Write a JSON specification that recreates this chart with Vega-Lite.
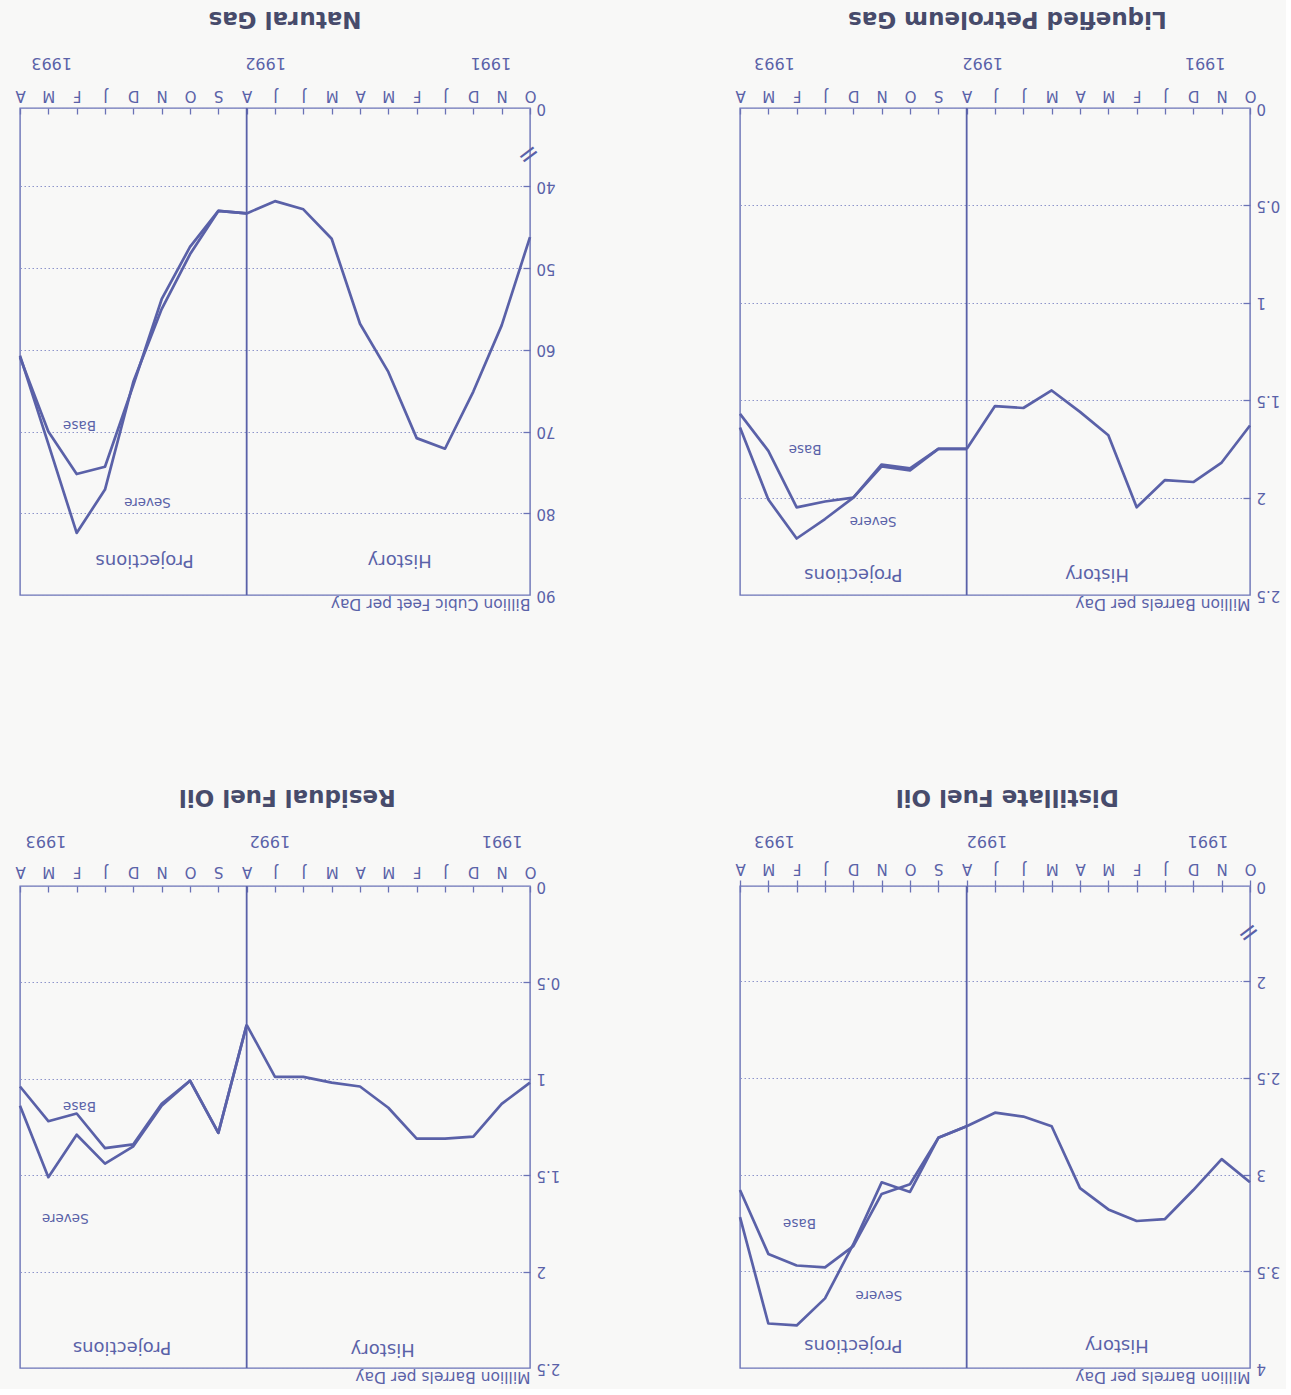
{
  "$schema": "https://vega.github.io/schema/vega-lite/v6.json",
  "background": "#f8f8f7",
  "padding": {"left": 14, "top": 6, "right": 5, "bottom": 5},
  "datasets": {
    "series": [
      {"fuel": "Natural Gas", "series": "History", "idx": 0, "value": 46.2},
      {"fuel": "Natural Gas", "series": "History", "idx": 1, "value": 57.0},
      {"fuel": "Natural Gas", "series": "History", "idx": 2, "value": 65.1},
      {"fuel": "Natural Gas", "series": "History", "idx": 3, "value": 72.1},
      {"fuel": "Natural Gas", "series": "History", "idx": 4, "value": 70.8},
      {"fuel": "Natural Gas", "series": "History", "idx": 5, "value": 62.7},
      {"fuel": "Natural Gas", "series": "History", "idx": 6, "value": 56.8},
      {"fuel": "Natural Gas", "series": "History", "idx": 7, "value": 46.4},
      {"fuel": "Natural Gas", "series": "History", "idx": 8, "value": 42.8},
      {"fuel": "Natural Gas", "series": "History", "idx": 9, "value": 41.8},
      {"fuel": "Natural Gas", "series": "History", "idx": 10, "value": 43.3},
      {"fuel": "Natural Gas", "series": "Severe", "idx": 10, "value": 43.3},
      {"fuel": "Natural Gas", "series": "Severe", "idx": 11, "value": 43.0},
      {"fuel": "Natural Gas", "series": "Severe", "idx": 12, "value": 48.3},
      {"fuel": "Natural Gas", "series": "Severe", "idx": 13, "value": 55.0},
      {"fuel": "Natural Gas", "series": "Severe", "idx": 14, "value": 63.9},
      {"fuel": "Natural Gas", "series": "Severe", "idx": 15, "value": 77.1},
      {"fuel": "Natural Gas", "series": "Severe", "idx": 16, "value": 82.4},
      {"fuel": "Natural Gas", "series": "Severe", "idx": 17, "value": 71.5},
      {"fuel": "Natural Gas", "series": "Severe", "idx": 18, "value": 60.7},
      {"fuel": "Natural Gas", "series": "Base", "idx": 10, "value": 43.3},
      {"fuel": "Natural Gas", "series": "Base", "idx": 11, "value": 43.0},
      {"fuel": "Natural Gas", "series": "Base", "idx": 12, "value": 47.4},
      {"fuel": "Natural Gas", "series": "Base", "idx": 13, "value": 53.8},
      {"fuel": "Natural Gas", "series": "Base", "idx": 14, "value": 64.3},
      {"fuel": "Natural Gas", "series": "Base", "idx": 15, "value": 74.3},
      {"fuel": "Natural Gas", "series": "Base", "idx": 16, "value": 75.2},
      {"fuel": "Natural Gas", "series": "Base", "idx": 17, "value": 70.0},
      {"fuel": "Natural Gas", "series": "Base", "idx": 18, "value": 60.9},

      {"fuel": "Liquefied Petroleum Gas", "series": "History", "idx": 0, "value": 1.63},
      {"fuel": "Liquefied Petroleum Gas", "series": "History", "idx": 1, "value": 1.82},
      {"fuel": "Liquefied Petroleum Gas", "series": "History", "idx": 2, "value": 1.92},
      {"fuel": "Liquefied Petroleum Gas", "series": "History", "idx": 3, "value": 1.91},
      {"fuel": "Liquefied Petroleum Gas", "series": "History", "idx": 4, "value": 2.05},
      {"fuel": "Liquefied Petroleum Gas", "series": "History", "idx": 5, "value": 1.68},
      {"fuel": "Liquefied Petroleum Gas", "series": "History", "idx": 6, "value": 1.56},
      {"fuel": "Liquefied Petroleum Gas", "series": "History", "idx": 7, "value": 1.45},
      {"fuel": "Liquefied Petroleum Gas", "series": "History", "idx": 8, "value": 1.54},
      {"fuel": "Liquefied Petroleum Gas", "series": "History", "idx": 9, "value": 1.53},
      {"fuel": "Liquefied Petroleum Gas", "series": "History", "idx": 10, "value": 1.75},
      {"fuel": "Liquefied Petroleum Gas", "series": "Severe", "idx": 10, "value": 1.75},
      {"fuel": "Liquefied Petroleum Gas", "series": "Severe", "idx": 11, "value": 1.75},
      {"fuel": "Liquefied Petroleum Gas", "series": "Severe", "idx": 12, "value": 1.86},
      {"fuel": "Liquefied Petroleum Gas", "series": "Severe", "idx": 13, "value": 1.84},
      {"fuel": "Liquefied Petroleum Gas", "series": "Severe", "idx": 14, "value": 2.0},
      {"fuel": "Liquefied Petroleum Gas", "series": "Severe", "idx": 15, "value": 2.11},
      {"fuel": "Liquefied Petroleum Gas", "series": "Severe", "idx": 16, "value": 2.21},
      {"fuel": "Liquefied Petroleum Gas", "series": "Severe", "idx": 17, "value": 2.01},
      {"fuel": "Liquefied Petroleum Gas", "series": "Severe", "idx": 18, "value": 1.64},
      {"fuel": "Liquefied Petroleum Gas", "series": "Base", "idx": 10, "value": 1.75},
      {"fuel": "Liquefied Petroleum Gas", "series": "Base", "idx": 11, "value": 1.75},
      {"fuel": "Liquefied Petroleum Gas", "series": "Base", "idx": 12, "value": 1.85},
      {"fuel": "Liquefied Petroleum Gas", "series": "Base", "idx": 13, "value": 1.83},
      {"fuel": "Liquefied Petroleum Gas", "series": "Base", "idx": 14, "value": 2.0},
      {"fuel": "Liquefied Petroleum Gas", "series": "Base", "idx": 15, "value": 2.02},
      {"fuel": "Liquefied Petroleum Gas", "series": "Base", "idx": 16, "value": 2.05},
      {"fuel": "Liquefied Petroleum Gas", "series": "Base", "idx": 17, "value": 1.76},
      {"fuel": "Liquefied Petroleum Gas", "series": "Base", "idx": 18, "value": 1.57},

      {"fuel": "Residual Fuel Oil", "series": "History", "idx": 0, "value": 1.02},
      {"fuel": "Residual Fuel Oil", "series": "History", "idx": 1, "value": 1.13},
      {"fuel": "Residual Fuel Oil", "series": "History", "idx": 2, "value": 1.30},
      {"fuel": "Residual Fuel Oil", "series": "History", "idx": 3, "value": 1.31},
      {"fuel": "Residual Fuel Oil", "series": "History", "idx": 4, "value": 1.31},
      {"fuel": "Residual Fuel Oil", "series": "History", "idx": 5, "value": 1.15},
      {"fuel": "Residual Fuel Oil", "series": "History", "idx": 6, "value": 1.04},
      {"fuel": "Residual Fuel Oil", "series": "History", "idx": 7, "value": 1.02},
      {"fuel": "Residual Fuel Oil", "series": "History", "idx": 8, "value": 0.99},
      {"fuel": "Residual Fuel Oil", "series": "History", "idx": 9, "value": 0.99},
      {"fuel": "Residual Fuel Oil", "series": "History", "idx": 10, "value": 0.72},
      {"fuel": "Residual Fuel Oil", "series": "Severe", "idx": 10, "value": 0.72},
      {"fuel": "Residual Fuel Oil", "series": "Severe", "idx": 11, "value": 1.28},
      {"fuel": "Residual Fuel Oil", "series": "Severe", "idx": 12, "value": 1.01},
      {"fuel": "Residual Fuel Oil", "series": "Severe", "idx": 13, "value": 1.14},
      {"fuel": "Residual Fuel Oil", "series": "Severe", "idx": 14, "value": 1.35},
      {"fuel": "Residual Fuel Oil", "series": "Severe", "idx": 15, "value": 1.44},
      {"fuel": "Residual Fuel Oil", "series": "Severe", "idx": 16, "value": 1.29},
      {"fuel": "Residual Fuel Oil", "series": "Severe", "idx": 17, "value": 1.51},
      {"fuel": "Residual Fuel Oil", "series": "Severe", "idx": 18, "value": 1.14},
      {"fuel": "Residual Fuel Oil", "series": "Base", "idx": 10, "value": 0.72},
      {"fuel": "Residual Fuel Oil", "series": "Base", "idx": 11, "value": 1.28},
      {"fuel": "Residual Fuel Oil", "series": "Base", "idx": 12, "value": 1.01},
      {"fuel": "Residual Fuel Oil", "series": "Base", "idx": 13, "value": 1.13},
      {"fuel": "Residual Fuel Oil", "series": "Base", "idx": 14, "value": 1.34},
      {"fuel": "Residual Fuel Oil", "series": "Base", "idx": 15, "value": 1.36},
      {"fuel": "Residual Fuel Oil", "series": "Base", "idx": 16, "value": 1.18},
      {"fuel": "Residual Fuel Oil", "series": "Base", "idx": 17, "value": 1.22},
      {"fuel": "Residual Fuel Oil", "series": "Base", "idx": 18, "value": 1.04},

      {"fuel": "Distillate Fuel Oil", "series": "History", "idx": 0, "value": 3.04},
      {"fuel": "Distillate Fuel Oil", "series": "History", "idx": 1, "value": 2.92},
      {"fuel": "Distillate Fuel Oil", "series": "History", "idx": 2, "value": 3.08},
      {"fuel": "Distillate Fuel Oil", "series": "History", "idx": 3, "value": 3.23},
      {"fuel": "Distillate Fuel Oil", "series": "History", "idx": 4, "value": 3.24},
      {"fuel": "Distillate Fuel Oil", "series": "History", "idx": 5, "value": 3.18},
      {"fuel": "Distillate Fuel Oil", "series": "History", "idx": 6, "value": 3.07},
      {"fuel": "Distillate Fuel Oil", "series": "History", "idx": 7, "value": 2.75},
      {"fuel": "Distillate Fuel Oil", "series": "History", "idx": 8, "value": 2.70},
      {"fuel": "Distillate Fuel Oil", "series": "History", "idx": 9, "value": 2.68},
      {"fuel": "Distillate Fuel Oil", "series": "History", "idx": 10, "value": 2.75},
      {"fuel": "Distillate Fuel Oil", "series": "Severe", "idx": 10, "value": 2.75},
      {"fuel": "Distillate Fuel Oil", "series": "Severe", "idx": 11, "value": 2.81},
      {"fuel": "Distillate Fuel Oil", "series": "Severe", "idx": 12, "value": 3.09},
      {"fuel": "Distillate Fuel Oil", "series": "Severe", "idx": 13, "value": 3.04},
      {"fuel": "Distillate Fuel Oil", "series": "Severe", "idx": 14, "value": 3.36},
      {"fuel": "Distillate Fuel Oil", "series": "Severe", "idx": 15, "value": 3.64},
      {"fuel": "Distillate Fuel Oil", "series": "Severe", "idx": 16, "value": 3.78},
      {"fuel": "Distillate Fuel Oil", "series": "Severe", "idx": 17, "value": 3.77},
      {"fuel": "Distillate Fuel Oil", "series": "Severe", "idx": 18, "value": 3.22},
      {"fuel": "Distillate Fuel Oil", "series": "Base", "idx": 10, "value": 2.75},
      {"fuel": "Distillate Fuel Oil", "series": "Base", "idx": 11, "value": 2.81},
      {"fuel": "Distillate Fuel Oil", "series": "Base", "idx": 12, "value": 3.05},
      {"fuel": "Distillate Fuel Oil", "series": "Base", "idx": 13, "value": 3.10},
      {"fuel": "Distillate Fuel Oil", "series": "Base", "idx": 14, "value": 3.37},
      {"fuel": "Distillate Fuel Oil", "series": "Base", "idx": 15, "value": 3.48},
      {"fuel": "Distillate Fuel Oil", "series": "Base", "idx": 16, "value": 3.47},
      {"fuel": "Distillate Fuel Oil", "series": "Base", "idx": 17, "value": 3.41},
      {"fuel": "Distillate Fuel Oil", "series": "Base", "idx": 18, "value": 3.08}
    ],
    "notes": [
      {"fuel": "Natural Gas", "role": "period", "label": "History", "idx": 4.6, "value": 85.7},
      {"fuel": "Natural Gas", "role": "period", "label": "Projections", "idx": 13.6, "value": 85.7},
      {"fuel": "Natural Gas", "role": "series", "label": "Base", "idx": 15.9, "value": 69.2},
      {"fuel": "Natural Gas", "role": "series", "label": "Severe", "idx": 13.5, "value": 78.6},
      {"fuel": "Liquefied Petroleum Gas", "role": "period", "label": "History", "idx": 5.4, "value": 2.39},
      {"fuel": "Liquefied Petroleum Gas", "role": "period", "label": "Projections", "idx": 14.0, "value": 2.39},
      {"fuel": "Liquefied Petroleum Gas", "role": "series", "label": "Base", "idx": 15.7, "value": 1.75},
      {"fuel": "Liquefied Petroleum Gas", "role": "series", "label": "Severe", "idx": 13.3, "value": 2.12},
      {"fuel": "Residual Fuel Oil", "role": "period", "label": "History", "idx": 5.2, "value": 2.4},
      {"fuel": "Residual Fuel Oil", "role": "period", "label": "Projections", "idx": 14.4, "value": 2.39},
      {"fuel": "Residual Fuel Oil", "role": "series", "label": "Base", "idx": 15.9, "value": 1.14},
      {"fuel": "Residual Fuel Oil", "role": "series", "label": "Severe", "idx": 16.4, "value": 1.72},
      {"fuel": "Distillate Fuel Oil", "role": "period", "label": "History", "idx": 4.7, "value": 3.88},
      {"fuel": "Distillate Fuel Oil", "role": "period", "label": "Projections", "idx": 14.0, "value": 3.88},
      {"fuel": "Distillate Fuel Oil", "role": "series", "label": "Base", "idx": 15.9, "value": 3.25},
      {"fuel": "Distillate Fuel Oil", "role": "series", "label": "Severe", "idx": 13.1, "value": 3.62}
    ],
    "dividers": [
      {"fuel": "Natural Gas", "idx": 10},
      {"fuel": "Liquefied Petroleum Gas", "idx": 10},
      {"fuel": "Residual Fuel Oil", "idx": 10},
      {"fuel": "Distillate Fuel Oil", "idx": 10}
    ],
    "breaks": [
      {"fuel": "Natural Gas", "idx": 0.05, "value": 36.1},
      {"fuel": "Distillate Fuel Oil", "idx": 0.05, "value": 1.75}
    ]
  },
  "concat": [
    {
      "title": {"text": "Natural Gas"},
      "width": 510, "height": 487,
      "layer": [
        {
          "data": {"name": "dividers"},
          "transform": [{"filter": "datum.fuel == 'Natural Gas'"}],
          "mark": {"type": "rule", "color": "#5a61a8", "strokeWidth": 1.8},
          "encoding": {
            "x": {"field": "idx", "type": "quantitative", "scale": {"domain": [0, 18], "reverse": true, "nice": false, "zero": false},
              "axis": {"orient": "top", "title": null, "values": [1.4, 9.35, 16.9], "labelExpr": "datum.value < 5 ? '1991' : datum.value < 13 ? '1992' : '1993'", "ticks": false, "domain": false, "grid": false, "labelPadding": 46, "labelFontSize": 16, "labelAlign": "center", "labelBaseline": "middle"}}
          }
        },
        {
          "data": {"name": "series"},
          "transform": [{"filter": "datum.fuel == 'Natural Gas'"}],
          "mark": {"type": "line", "color": "#5a61a8", "strokeJoin": "round"},
          "encoding": {
            "x": {"field": "idx", "type": "quantitative", "scale": {"domain": [0, 18], "reverse": true, "nice": false, "zero": false},
              "axis": {"orient": "top", "title": null, "values": [0,1,2,3,4,5,6,7,8,9,10,11,12,13,14,15,16,17,18], "labelExpr": "['O','N','D','J','F','M','A','M','J','J','A','S','O','N','D','J','F','M','A'][datum.value]", "ticks": false, "domain": false, "grid": false, "labelPadding": 13, "labelAlign": "center", "labelBaseline": "middle"}},
            "y": {"field": "value", "type": "quantitative", "scale": {"domain": [30.4, 90], "reverse": true, "nice": false, "zero": false},
              "axis": {"orient": "right", "values": [30.4, 40, 50, 60, 70, 80, 90], "format": "d", "labelExpr": "datum.value < 35 ? '0' : datum.label", "labelAlign": "right", "labelBaseline": "middle", "labelPadding": 6, "ticks": false, "domain": false, "grid": true, "title": "Billion Cubic Feet per Day", "titleAngle": 180, "titleAlign": "left", "titleBaseline": "alphabetic", "titleX": 0, "titleY": 490}},
            "strokeWidth": {"field": "series", "type": "nominal", "scale": {"domain": ["History", "Severe", "Base"], "range": [2.7, 2.7, 1.3]}, "legend": null}
          }
        },
        {
          "data": {"name": "notes"},
          "transform": [{"filter": "datum.fuel == 'Natural Gas' && datum.role == 'period'"}],
          "mark": {"type": "text", "fontSize": 18},
          "encoding": {
            "x": {"field": "idx", "type": "quantitative", "scale": {"domain": [0, 18], "reverse": true, "nice": false, "zero": false},
              "axis": {"orient": "top", "title": null, "values": [0,1,2,3,4,5,6,7,8,9,10,11,12,13,14,15,16,17,18], "labels": false, "ticks": true, "tickSize": -6, "domain": false, "grid": false}},
            "y": {"field": "value", "type": "quantitative", "scale": {"domain": [30.4, 90], "reverse": true, "nice": false, "zero": false},
              "axis": {"orient": "right", "title": null, "values": [40, 50, 60, 70, 80], "labels": false, "ticks": true, "tickSize": -7, "domain": false, "grid": false}},
            "text": {"field": "label"}
          }
        },
        {
          "data": {"name": "notes"},
          "transform": [{"filter": "datum.fuel == 'Natural Gas' && datum.role == 'series'"}],
          "mark": {"type": "text", "fontSize": 13.5},
          "encoding": {
            "x": {"field": "idx", "type": "quantitative", "scale": {"domain": [0, 18], "reverse": true, "nice": false, "zero": false}, "axis": null},
            "y": {"field": "value", "type": "quantitative", "scale": {"domain": [30.4, 90], "reverse": true, "nice": false, "zero": false}, "axis": null},
            "text": {"field": "label"}
          }
        },
        {
          "data": {"name": "breaks"},
          "transform": [{"filter": "datum.fuel == 'Natural Gas'"}],
          "mark": {"type": "text", "text": "=", "fontSize": 26, "angle": -37, "color": "#5a61a8"},
          "encoding": {
            "x": {"field": "idx", "type": "quantitative", "scale": {"domain": [0, 18], "reverse": true, "nice": false, "zero": false}, "axis": null},
            "y": {"field": "value", "type": "quantitative", "scale": {"domain": [30.4, 90], "reverse": true, "nice": false, "zero": false}, "axis": null}
          }
        }
      ],
      "resolve": {"axis": {"x": "independent", "y": "independent"}}
    },
    {
      "title": {"text": "Liquefied Petroleum Gas"},
      "width": 510, "height": 487,
      "layer": [
        {
          "data": {"name": "dividers"},
          "transform": [{"filter": "datum.fuel == 'Liquefied Petroleum Gas'"}],
          "mark": {"type": "rule", "color": "#5a61a8", "strokeWidth": 1.8},
          "encoding": {
            "x": {"field": "idx", "type": "quantitative", "scale": {"domain": [0, 18], "reverse": true, "nice": false, "zero": false},
              "axis": {"orient": "top", "title": null, "values": [1.6, 9.45, 16.8], "labelExpr": "datum.value < 5 ? '1991' : datum.value < 13 ? '1992' : '1993'", "ticks": false, "domain": false, "grid": false, "labelPadding": 46, "labelFontSize": 16, "labelAlign": "center", "labelBaseline": "middle"}}
          }
        },
        {
          "data": {"name": "series"},
          "transform": [{"filter": "datum.fuel == 'Liquefied Petroleum Gas'"}],
          "mark": {"type": "line", "color": "#5a61a8", "strokeJoin": "round"},
          "encoding": {
            "x": {"field": "idx", "type": "quantitative", "scale": {"domain": [0, 18], "reverse": true, "nice": false, "zero": false},
              "axis": {"orient": "top", "title": null, "values": [0,1,2,3,4,5,6,7,8,9,10,11,12,13,14,15,16,17,18], "labelExpr": "['O','N','D','J','F','M','A','M','J','J','A','S','O','N','D','J','F','M','A'][datum.value]", "ticks": false, "domain": false, "grid": false, "labelPadding": 13, "labelAlign": "center", "labelBaseline": "middle"}},
            "y": {"field": "value", "type": "quantitative", "scale": {"domain": [0, 2.5], "reverse": true, "nice": false, "zero": false},
              "axis": {"orient": "right", "values": [0, 0.5, 1, 1.5, 2, 2.5], "format": "~g", "labelAlign": "right", "labelBaseline": "middle", "labelPadding": 6, "ticks": false, "domain": false, "grid": true, "title": "Million Barrels per Day", "titleAngle": 180, "titleAlign": "left", "titleBaseline": "alphabetic", "titleX": 0, "titleY": 490}},
            "strokeWidth": {"field": "series", "type": "nominal", "scale": {"domain": ["History", "Severe", "Base"], "range": [2.7, 2.7, 1.3]}, "legend": null}
          }
        },
        {
          "data": {"name": "notes"},
          "transform": [{"filter": "datum.fuel == 'Liquefied Petroleum Gas' && datum.role == 'period'"}],
          "mark": {"type": "text", "fontSize": 18},
          "encoding": {
            "x": {"field": "idx", "type": "quantitative", "scale": {"domain": [0, 18], "reverse": true, "nice": false, "zero": false},
              "axis": {"orient": "top", "title": null, "values": [0,1,2,3,4,5,6,7,8,9,10,11,12,13,14,15,16,17,18], "labels": false, "ticks": true, "tickSize": -6, "domain": false, "grid": false}},
            "y": {"field": "value", "type": "quantitative", "scale": {"domain": [0, 2.5], "reverse": true, "nice": false, "zero": false},
              "axis": {"orient": "right", "title": null, "values": [0.5, 1, 1.5, 2], "labels": false, "ticks": true, "tickSize": -7, "domain": false, "grid": false}},
            "text": {"field": "label"}
          }
        },
        {
          "data": {"name": "notes"},
          "transform": [{"filter": "datum.fuel == 'Liquefied Petroleum Gas' && datum.role == 'series'"}],
          "mark": {"type": "text", "fontSize": 13.5},
          "encoding": {
            "x": {"field": "idx", "type": "quantitative", "scale": {"domain": [0, 18], "reverse": true, "nice": false, "zero": false}, "axis": null},
            "y": {"field": "value", "type": "quantitative", "scale": {"domain": [0, 2.5], "reverse": true, "nice": false, "zero": false}, "axis": null},
            "text": {"field": "label"}
          }
        }
      ],
      "resolve": {"axis": {"x": "independent", "y": "independent"}}
    },
    {
      "title": {"text": "Residual Fuel Oil"},
      "width": 510, "height": 482,
      "layer": [
        {
          "data": {"name": "dividers"},
          "transform": [{"filter": "datum.fuel == 'Residual Fuel Oil'"}],
          "mark": {"type": "rule", "color": "#5a61a8", "strokeWidth": 1.8},
          "encoding": {
            "x": {"field": "idx", "type": "quantitative", "scale": {"domain": [0, 18], "reverse": true, "nice": false, "zero": false},
              "axis": {"orient": "top", "title": null, "values": [1.0, 9.2, 17.1], "labelExpr": "datum.value < 5 ? '1991' : datum.value < 13 ? '1992' : '1993'", "ticks": false, "domain": false, "grid": false, "labelPadding": 46, "labelFontSize": 16, "labelAlign": "center", "labelBaseline": "middle"}}
          }
        },
        {
          "data": {"name": "series"},
          "transform": [{"filter": "datum.fuel == 'Residual Fuel Oil'"}],
          "mark": {"type": "line", "color": "#5a61a8", "strokeJoin": "round"},
          "encoding": {
            "x": {"field": "idx", "type": "quantitative", "scale": {"domain": [0, 18], "reverse": true, "nice": false, "zero": false},
              "axis": {"orient": "top", "title": null, "values": [0,1,2,3,4,5,6,7,8,9,10,11,12,13,14,15,16,17,18], "labelExpr": "['O','N','D','J','F','M','A','M','J','J','A','S','O','N','D','J','F','M','A'][datum.value]", "ticks": false, "domain": false, "grid": false, "labelPadding": 15, "labelAlign": "center", "labelBaseline": "middle"}},
            "y": {"field": "value", "type": "quantitative", "scale": {"domain": [0, 2.5], "reverse": true, "nice": false, "zero": false},
              "axis": {"orient": "right", "values": [0, 0.5, 1, 1.5, 2, 2.5], "format": "~g", "labelAlign": "right", "labelBaseline": "middle", "labelPadding": 6, "ticks": false, "domain": false, "grid": true, "title": "Million Barrels per Day", "titleAngle": 180, "titleAlign": "left", "titleBaseline": "alphabetic", "titleX": 0, "titleY": 485}},
            "strokeWidth": {"field": "series", "type": "nominal", "scale": {"domain": ["History", "Severe", "Base"], "range": [2.7, 2.7, 1.3]}, "legend": null}
          }
        },
        {
          "data": {"name": "notes"},
          "transform": [{"filter": "datum.fuel == 'Residual Fuel Oil' && datum.role == 'period'"}],
          "mark": {"type": "text", "fontSize": 18},
          "encoding": {
            "x": {"field": "idx", "type": "quantitative", "scale": {"domain": [0, 18], "reverse": true, "nice": false, "zero": false},
              "axis": {"orient": "top", "title": null, "values": [0,1,2,3,4,5,6,7,8,9,10,11,12,13,14,15,16,17,18], "labels": false, "ticks": true, "tickSize": -6, "domain": false, "grid": false}},
            "y": {"field": "value", "type": "quantitative", "scale": {"domain": [0, 2.5], "reverse": true, "nice": false, "zero": false},
              "axis": {"orient": "right", "title": null, "values": [0.5, 1, 1.5, 2], "labels": false, "ticks": true, "tickSize": -7, "domain": false, "grid": false}},
            "text": {"field": "label"}
          }
        },
        {
          "data": {"name": "notes"},
          "transform": [{"filter": "datum.fuel == 'Residual Fuel Oil' && datum.role == 'series'"}],
          "mark": {"type": "text", "fontSize": 13.5},
          "encoding": {
            "x": {"field": "idx", "type": "quantitative", "scale": {"domain": [0, 18], "reverse": true, "nice": false, "zero": false}, "axis": null},
            "y": {"field": "value", "type": "quantitative", "scale": {"domain": [0, 2.5], "reverse": true, "nice": false, "zero": false}, "axis": null},
            "text": {"field": "label"}
          }
        }
      ],
      "resolve": {"axis": {"x": "independent", "y": "independent"}}
    },
    {
      "title": {"text": "Distillate Fuel Oil"},
      "width": 510, "height": 482,
      "layer": [
        {
          "data": {"name": "dividers"},
          "transform": [{"filter": "datum.fuel == 'Distillate Fuel Oil'"}],
          "mark": {"type": "rule", "color": "#5a61a8", "strokeWidth": 1.8},
          "encoding": {
            "x": {"field": "idx", "type": "quantitative", "scale": {"domain": [0, 18], "reverse": true, "nice": false, "zero": false},
              "axis": {"orient": "top", "title": null, "values": [1.5, 9.3, 16.8], "labelExpr": "datum.value < 5 ? '1991' : datum.value < 13 ? '1992' : '1993'", "ticks": false, "domain": false, "grid": false, "labelPadding": 46, "labelFontSize": 16, "labelAlign": "center", "labelBaseline": "middle"}}
          }
        },
        {
          "data": {"name": "series"},
          "transform": [{"filter": "datum.fuel == 'Distillate Fuel Oil'"}],
          "mark": {"type": "line", "color": "#5a61a8", "strokeJoin": "round"},
          "encoding": {
            "x": {"field": "idx", "type": "quantitative", "scale": {"domain": [0, 18], "reverse": true, "nice": false, "zero": false},
              "axis": {"orient": "top", "title": null, "values": [0,1,2,3,4,5,6,7,8,9,10,11,12,13,14,15,16,17,18], "labelExpr": "['O','N','D','J','F','M','A','M','J','J','A','S','O','N','D','J','F','M','A'][datum.value]", "ticks": true, "tickSize": 6, "domain": false, "grid": false, "labelPadding": 12, "labelAlign": "center", "labelBaseline": "middle"}},
            "y": {"field": "value", "type": "quantitative", "scale": {"domain": [1.508, 4], "reverse": true, "nice": false, "zero": false},
              "axis": {"orient": "right", "values": [1.508, 2, 2.5, 3, 3.5, 4], "format": "~g", "labelExpr": "datum.value < 1.9 ? '0' : datum.label", "labelAlign": "right", "labelBaseline": "middle", "labelPadding": 6, "ticks": false, "domain": false, "grid": true, "title": "Million Barrels per Day", "titleAngle": 180, "titleAlign": "left", "titleBaseline": "alphabetic", "titleX": 0, "titleY": 485}},
            "strokeWidth": {"field": "series", "type": "nominal", "scale": {"domain": ["History", "Severe", "Base"], "range": [2.7, 2.7, 1.3]}, "legend": null}
          }
        },
        {
          "data": {"name": "notes"},
          "transform": [{"filter": "datum.fuel == 'Distillate Fuel Oil' && datum.role == 'period'"}],
          "mark": {"type": "text", "fontSize": 18},
          "encoding": {
            "x": {"field": "idx", "type": "quantitative", "scale": {"domain": [0, 18], "reverse": true, "nice": false, "zero": false},
              "axis": {"orient": "top", "title": null, "values": [0,1,2,3,4,5,6,7,8,9,10,11,12,13,14,15,16,17,18], "labels": false, "ticks": true, "tickSize": -6, "domain": false, "grid": false}},
            "y": {"field": "value", "type": "quantitative", "scale": {"domain": [1.508, 4], "reverse": true, "nice": false, "zero": false},
              "axis": {"orient": "right", "title": null, "values": [2, 2.5, 3, 3.5], "labels": false, "ticks": true, "tickSize": -7, "domain": false, "grid": false}},
            "text": {"field": "label"}
          }
        },
        {
          "data": {"name": "notes"},
          "transform": [{"filter": "datum.fuel == 'Distillate Fuel Oil' && datum.role == 'series'"}],
          "mark": {"type": "text", "fontSize": 13.5},
          "encoding": {
            "x": {"field": "idx", "type": "quantitative", "scale": {"domain": [0, 18], "reverse": true, "nice": false, "zero": false}, "axis": null},
            "y": {"field": "value", "type": "quantitative", "scale": {"domain": [1.508, 4], "reverse": true, "nice": false, "zero": false}, "axis": null},
            "text": {"field": "label"}
          }
        },
        {
          "data": {"name": "breaks"},
          "transform": [{"filter": "datum.fuel == 'Distillate Fuel Oil'"}],
          "mark": {"type": "text", "text": "=", "fontSize": 26, "angle": -37, "color": "#5a61a8"},
          "encoding": {
            "x": {"field": "idx", "type": "quantitative", "scale": {"domain": [0, 18], "reverse": true, "nice": false, "zero": false}, "axis": null},
            "y": {"field": "value", "type": "quantitative", "scale": {"domain": [1.508, 4], "reverse": true, "nice": false, "zero": false}, "axis": null}
          }
        }
      ],
      "resolve": {"axis": {"x": "independent", "y": "independent"}}
    }
  ],
  "columns": 2,
  "spacing": {"row": 291, "column": 210},
  "bounds": "flush",
  "config": {
    "font": "DejaVu Sans",
    "view": {"stroke": "#6a72b6", "strokeWidth": 1.4},
    "axis": {"labelFont": "DejaVu Sans", "labelColor": "#5a62a8", "labelFontSize": 15, "labelAngle": 180, "tickColor": "#6a72b6", "tickWidth": 1.3, "domainColor": "#6a72b6", "gridColor": "#8e95ca", "gridDash": [1.5, 2.5], "gridWidth": 1, "titleFont": "DejaVu Sans", "titleColor": "#5a62a8", "titleFontWeight": "normal", "titleFontSize": 15.5, "labelFlush": false, "labelOverlap": false},
    "title": {"font": "DejaVu Sans", "fontSize": 23, "fontWeight": "bold", "color": "#474b6b", "angle": 180, "baseline": "top", "frame": "bounds", "anchor": "middle", "offset": 1},
    "text": {"font": "DejaVu Sans", "color": "#5a62a8", "angle": 180, "align": "center", "baseline": "middle"}
  }
}
